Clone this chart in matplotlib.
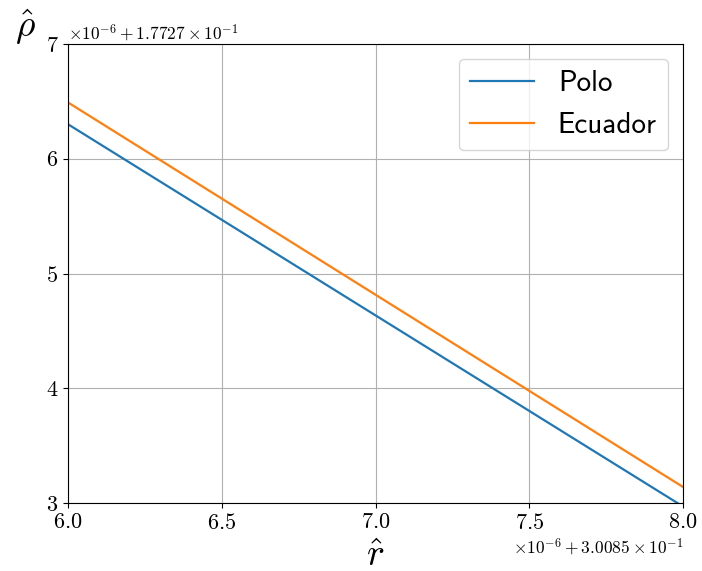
import matplotlib
matplotlib.use("Agg")
import matplotlib.pyplot as plt
from matplotlib.ticker import ScalarFormatter

plt.rcParams['font.family'] = 'serif'
plt.rcParams['font.serif'] = ['cmr10']
plt.rcParams['mathtext.fontset'] = 'cm'
plt.rcParams['axes.formatter.use_mathtext'] = True
plt.rcParams['axes.unicode_minus'] = False

# data
r_hat = [0.300856, 0.300858]
rho_polo = [0.1772763, 0.17727297]
rho_ecuador = [0.17727649, 0.17727314]
labels = ['Polo', 'Ecuador']


class SpacedFormatter(ScalarFormatter):
    # put latex-like spacing round the "+" of the offset text
    def get_offset(self):
        s = super().get_offset()
        return s.replace(r'\mathdefault{+', r'+\mathdefault{')


fig = plt.figure(figsize=(7.02, 5.71), dpi=100)
ax = fig.add_axes([0.097, 0.119, 0.876, 0.804])
ax.plot(r_hat, rho_polo, color='#1f77b4', lw=1.6, label=labels[0])
ax.plot(r_hat, rho_ecuador, color='#ff7f0e', lw=1.6, label=labels[1])

ax.xaxis.set_major_formatter(SpacedFormatter(useMathText=True))
ax.yaxis.set_major_formatter(SpacedFormatter(useMathText=True))
ax.set_xlim(0.300856, 0.300858)
ax.set_ylim(0.17727300, 0.17727700)
ax.set_xticks([0.300856, 0.3008565, 0.300857, 0.3008575, 0.300858])
ax.set_yticks([0.177273, 0.177274, 0.177275, 0.177276, 0.177277])
ax.tick_params(labelsize=16)
ax.xaxis.get_offset_text().set_fontsize(12.5)
ax.yaxis.get_offset_text().set_fontsize(12.5)
ax.grid(True, color='#b0b0b0', lw=0.8)

ax.set_xlabel(r'$\hat{r}$', fontsize=27)
ax.xaxis.set_label_coords(0.5, -0.08)
ax.set_ylabel(r'$\hat{\rho}$', fontsize=27, rotation=0)
ax.yaxis.set_label_coords(-0.07, 0.993)

ax.legend(loc='upper right', prop={'family': 'cmss10', 'size': 21},
          handlelength=2.2)

plt.savefig('out.png', dpi=100)
